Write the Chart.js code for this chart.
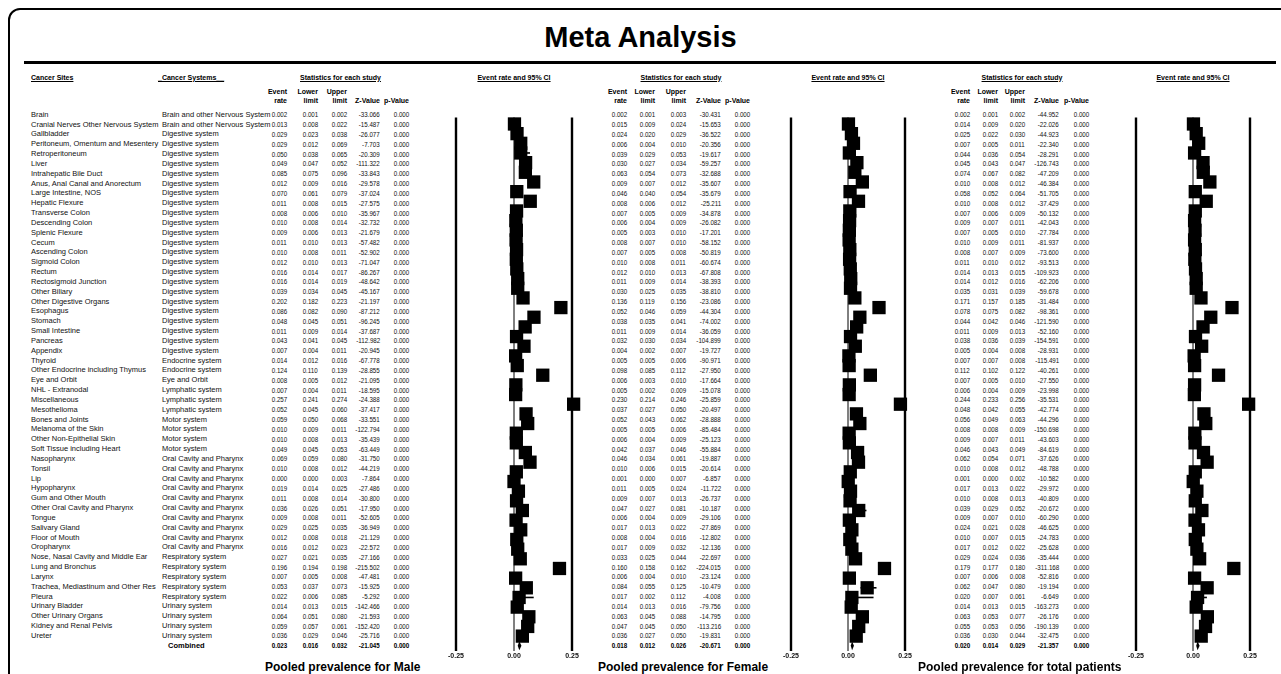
<!DOCTYPE html>
<html>
<head>
<meta charset="utf-8">
<title>Meta Analysis</title>
<script src="https://cdn.jsdelivr.net/npm/chart.js@4.4.1/dist/chart.umd.min.js"></script>
<style>
  body { margin: 0; background: #fff; }
  #page { position: relative; width: 1281px; height: 674px; overflow: hidden; font-family: "Liberation Sans", Arial, sans-serif; }
  .frame { position: absolute; left: 8px; top: 8px; width: 1300px; height: 700px; border: 2px solid #000; border-radius: 12px; }
  .rule { position: absolute; left: 24px; top: 61px; width: 1252px; height: 2.5px; background: #000; }
  .t { position: absolute; white-space: nowrap; font-size: 7.5px; line-height: 7.5px; color: #111; }
  .n { font-size: 7.3px; line-height: 7.3px; transform: scaleX(0.85); transform-origin: right center; }
  .h { font-size: 7px; line-height: 7px; }
  .b { font-weight: bold; color: #000; }
  .u { text-decoration: underline; }
  .title { position: absolute; left: 0; width: 1281px; top: 23px; text-align: center; font-size: 29px; line-height: 29px; font-weight: bold; }
  .foot { position: absolute; top: 661px; font-size: 12px; line-height: 12px; font-weight: bold; white-space: nowrap; }
  canvas { position: absolute; }
</style>
</head>
<body>
<div id="page">
  <div class="frame"></div>
  <div class="title">Meta Analysis</div>
  <div class="rule"></div>
</div>
<script>
// ---- data ----
const sites = ["Brain", "Cranial Nerves Other Nervous System", "Gallbladder", "Peritoneum, Omentum and Mesentery", "Retroperitoneum",
  "Liver", " Intrahepatic Bile Duct", "Anus, Anal Canal and Anorectum", "Large Intestine, NOS", "Hepatic Flexure",
  "Transverse Colon", "Descending Colon", "Splenic Flexure", "Cecum", "Ascending Colon", "Sigmoid Colon", "Rectum",
  "Rectosigmoid Junction", "Other Biliary", "Other Digestive Organs", "Esophagus", "Stomach", "Small Intestine", "Pancreas",
  "Appendix", "Thyroid", "Other Endocrine including Thymus", "Eye and Orbit", "NHL - Extranodal", "Miscellaneous",
  "Mesothelioma", "Bones and Joints", "Melanoma of the Skin", "Other Non-Epithelial Skin", "Soft Tissue including Heart",
  "Nasopharynx", "Tonsil", "Lip", "Hypopharynx", "Gum and Other Mouth", "Other Oral Cavity and Pharynx", "Tongue",
  "Salivary Gland", "Floor of Mouth", "Oropharynx", "Nose, Nasal Cavity and Middle Ear", "Lung and Bronchus", "Larynx",
  "Trachea, Mediastinum and Other Res", "Pleura", "Urinary Bladder", "Other Urinary Organs", "Kidney and Renal Pelvis", "Ureter"];

const BR = "Brain and other Nervous System", DG = "Digestive system", EN = "Endocrine system", EY = "Eye and Orbit",
  LY = "Lymphatic system", MO = "Motor system", OR = "Oral Cavity and Pharynx", RE = "Respiratory system", UR = "Urinary system";
const systems = [BR, BR, DG, DG, DG, DG, DG, DG, DG, DG, DG, DG, DG, DG, DG, DG, DG, DG, DG, DG, DG, DG, DG, DG, DG,
  EN, EN, EY, LY, LY, LY, MO, MO, MO, MO, OR, OR, OR, OR, OR, OR, OR, OR, OR, OR, RE, RE, RE, RE, RE, UR, UR, UR, UR];

const maleRate = [0.002, 0.013, 0.029, 0.029, 0.050, 0.049, 0.085, 0.012, 0.070, 0.011,
  0.008, 0.010, 0.009, 0.011, 0.010, 0.012, 0.016, 0.016, 0.039, 0.202,
  0.086, 0.048, 0.011, 0.043, 0.007, 0.014, 0.124, 0.008, 0.007, 0.257,
  0.052, 0.059, 0.010, 0.010, 0.049, 0.069, 0.010, 0.000, 0.019, 0.011,
  0.036, 0.009, 0.029, 0.012, 0.016, 0.027, 0.196, 0.007, 0.053, 0.022,
  0.014, 0.064, 0.059, 0.036];
const maleLower = [0.001, 0.008, 0.023, 0.012, 0.038, 0.047, 0.075, 0.009, 0.061, 0.008,
  0.006, 0.008, 0.006, 0.010, 0.008, 0.010, 0.014, 0.014, 0.034, 0.182,
  0.082, 0.045, 0.009, 0.041, 0.004, 0.012, 0.110, 0.005, 0.004, 0.241,
  0.045, 0.050, 0.009, 0.008, 0.045, 0.059, 0.008, 0.000, 0.014, 0.008,
  0.026, 0.008, 0.025, 0.008, 0.012, 0.021, 0.194, 0.005, 0.037, 0.006,
  0.013, 0.051, 0.057, 0.029];
const maleUpper = [0.002, 0.022, 0.038, 0.069, 0.065, 0.052, 0.096, 0.016, 0.079, 0.015,
  0.010, 0.014, 0.013, 0.013, 0.011, 0.013, 0.017, 0.019, 0.045, 0.223,
  0.090, 0.051, 0.014, 0.045, 0.011, 0.016, 0.139, 0.012, 0.011, 0.274,
  0.060, 0.068, 0.011, 0.013, 0.053, 0.080, 0.012, 0.003, 0.025, 0.014,
  0.051, 0.011, 0.035, 0.018, 0.023, 0.035, 0.198, 0.008, 0.073, 0.085,
  0.015, 0.080, 0.061, 0.046];
const maleZ = [-33.066, -15.487, -26.077, -7.703, -20.309, -111.322, -33.843, -29.578, -37.024, -27.575,
  -35.967, -32.732, -21.679, -57.482, -52.902, -71.047, -86.267, -48.642, -45.167, -21.197,
  -87.212, -96.245, -37.687, -112.982, -20.945, -67.778, -28.855, -21.095, -18.595, -24.388,
  -37.417, -33.551, -122.794, -35.439, -63.449, -31.750, -44.219, -7.864, -27.486, -30.800,
  -17.950, -52.605, -36.949, -21.129, -22.572, -27.166, -215.502, -47.481, -15.925, -5.292,
  -142.466, -21.593, -152.420, -25.716];

const femaleRate = [0.002, 0.015, 0.024, 0.006, 0.039, 0.030, 0.063, 0.009, 0.046, 0.008,
  0.007, 0.006, 0.005, 0.008, 0.007, 0.010, 0.012, 0.011, 0.030, 0.136,
  0.052, 0.038, 0.011, 0.032, 0.004, 0.005, 0.098, 0.006, 0.005, 0.230,
  0.037, 0.052, 0.005, 0.006, 0.042, 0.046, 0.010, 0.001, 0.011, 0.009,
  0.047, 0.006, 0.017, 0.008, 0.017, 0.033, 0.160, 0.006, 0.084, 0.017,
  0.014, 0.063, 0.047, 0.036];
const femaleLower = [0.001, 0.009, 0.020, 0.004, 0.029, 0.027, 0.054, 0.007, 0.040, 0.006,
  0.005, 0.004, 0.003, 0.007, 0.005, 0.008, 0.010, 0.009, 0.025, 0.119,
  0.046, 0.035, 0.009, 0.030, 0.002, 0.005, 0.085, 0.003, 0.002, 0.214,
  0.027, 0.043, 0.005, 0.004, 0.037, 0.034, 0.006, 0.000, 0.005, 0.007,
  0.027, 0.004, 0.013, 0.004, 0.009, 0.025, 0.158, 0.004, 0.055, 0.002,
  0.013, 0.045, 0.045, 0.027];
const femaleUpper = [0.003, 0.024, 0.029, 0.010, 0.053, 0.034, 0.073, 0.012, 0.054, 0.012,
  0.009, 0.009, 0.010, 0.010, 0.008, 0.011, 0.013, 0.014, 0.035, 0.156,
  0.059, 0.041, 0.014, 0.034, 0.007, 0.006, 0.112, 0.010, 0.009, 0.246,
  0.050, 0.062, 0.006, 0.009, 0.046, 0.061, 0.015, 0.007, 0.024, 0.013,
  0.081, 0.009, 0.022, 0.016, 0.032, 0.044, 0.162, 0.010, 0.125, 0.112,
  0.016, 0.088, 0.050, 0.050];
const femaleZ = [-30.431, -15.653, -36.522, -20.356, -19.617, -59.257, -32.688, -35.607, -35.679, -25.211,
  -34.878, -26.082, -17.201, -58.152, -50.819, -60.674, -67.808, -38.393, -38.810, -23.086,
  -44.304, -74.002, -36.059, -104.899, -19.727, -90.971, -27.950, -17.664, -15.078, -25.859,
  -20.497, -28.888, -85.484, -25.123, -55.884, -19.887, -20.614, -6.857, -11.722, -26.737,
  -10.187, -29.106, -27.869, -12.802, -12.136, -22.697, -224.015, -23.124, -10.479, -4.008,
  -79.756, -14.795, -113.216, -19.831];

const totalRate = [0.002, 0.014, 0.025, 0.007, 0.044, 0.045, 0.074, 0.010, 0.058, 0.010,
  0.007, 0.009, 0.007, 0.010, 0.008, 0.011, 0.014, 0.014, 0.035, 0.171,
  0.078, 0.044, 0.011, 0.038, 0.005, 0.007, 0.112, 0.007, 0.006, 0.244,
  0.048, 0.056, 0.008, 0.009, 0.046, 0.062, 0.010, 0.001, 0.017, 0.010,
  0.039, 0.009, 0.024, 0.010, 0.017, 0.029, 0.179, 0.007, 0.062, 0.020,
  0.014, 0.063, 0.055, 0.036];
const totalLower = [0.001, 0.009, 0.022, 0.005, 0.036, 0.043, 0.067, 0.008, 0.052, 0.008,
  0.006, 0.007, 0.005, 0.009, 0.007, 0.010, 0.013, 0.012, 0.031, 0.157,
  0.075, 0.042, 0.009, 0.036, 0.004, 0.007, 0.102, 0.005, 0.004, 0.233,
  0.042, 0.049, 0.008, 0.007, 0.043, 0.054, 0.008, 0.000, 0.013, 0.008,
  0.029, 0.007, 0.021, 0.007, 0.012, 0.024, 0.177, 0.006, 0.047, 0.007,
  0.013, 0.053, 0.053, 0.030];
const totalUpper = [0.002, 0.020, 0.030, 0.011, 0.054, 0.047, 0.082, 0.012, 0.064, 0.012,
  0.009, 0.011, 0.010, 0.011, 0.009, 0.012, 0.015, 0.016, 0.039, 0.185,
  0.082, 0.046, 0.013, 0.039, 0.008, 0.008, 0.122, 0.010, 0.009, 0.256,
  0.055, 0.063, 0.009, 0.011, 0.049, 0.071, 0.012, 0.002, 0.022, 0.013,
  0.052, 0.010, 0.028, 0.015, 0.022, 0.036, 0.180, 0.008, 0.080, 0.061,
  0.015, 0.077, 0.056, 0.044];
const totalZ = [-44.952, -22.026, -44.923, -22.340, -28.291, -126.743, -47.209, -46.384, -51.705, -37.429,
  -50.132, -42.043, -27.784, -81.937, -73.600, -93.513, -109.923, -62.206, -59.678, -31.484,
  -98.361, -121.590, -52.160, -154.591, -28.931, -115.491, -40.261, -27.550, -23.998, -35.531,
  -42.774, -44.296, -150.698, -43.603, -84.619, -37.626, -48.788, -10.582, -29.972, -40.809,
  -20.672, -60.290, -46.625, -24.783, -25.628, -35.444, -311.168, -52.816, -19.194, -6.649,
  -163.273, -26.176, -190.139, -32.475];

// p-value is 0.000 on every row of all three tables
const pValue = [0, 0, 0, 0, 0, 0, 0, 0, 0, 0, 0, 0, 0, 0, 0, 0, 0, 0, 0, 0, 0, 0, 0, 0, 0, 0, 0,
  0, 0, 0, 0, 0, 0, 0, 0, 0, 0, 0, 0, 0, 0, 0, 0, 0, 0, 0, 0, 0, 0, 0, 0, 0, 0, 0];

// combined row: rate, lower, upper, z, p
const maleCombined = [0.023, 0.016, 0.032, -21.045, 0.000];
const femaleCombined = [0.018, 0.012, 0.026, -20.671, 0.000];
const totalCombined = [0.020, 0.014, 0.029, -21.357, 0.000];

const xTicks = [-0.25, 0, 0.25];
const colHeads = [["Event", "rate"], ["Lower", "limit"], ["Upper", "limit"], ["", "Z-Value"], ["", "p-Value"]];

// ---- layout ----
const page = document.getElementById('page');
const ROW_TOP = 114.7, ROW_H = 9.833;
const rowY = i => ROW_TOP + i * ROW_H;
const PLOT_TOP = 108, PLOT_BOTTOM = 651;

function addText(txt, x, y, cls, align) {
  const d = document.createElement('div');
  d.className = 't ' + (cls || '');
  d.textContent = txt;
  page.appendChild(d);
  d.style.top = (y - d.offsetHeight / 2) + 'px';
  if (align === 'right') d.style.right = (1281 - x) + 'px';
  else if (align === 'center') { d.style.left = (x - 100) + 'px'; d.style.width = '200px'; d.style.textAlign = 'center'; }
  else d.style.left = x + 'px';
  return d;
}

// left labels
addText('Cancer Sites', 31, 77, 'h b u');
addText('_Cancer Systems__', 158, 77, 'h b u');
sites.forEach((s, i) => {
  addText(s, 31, rowY(i));
  addText(systems[i], 162, rowY(i));
});
addText('Combined', 168, rowY(sites.length), 'b');

const groups = [
  { rate: maleRate, lower: maleLower, upper: maleUpper, z: maleZ, comb: maleCombined,
    cols: [287, 318, 347, 380, 409], left: 456, right: 572, foot: 'Pooled prevalence for Male', footX: 265 },
  { rate: femaleRate, lower: femaleLower, upper: femaleUpper, z: femaleZ, comb: femaleCombined,
    cols: [627, 655, 686, 721, 750], left: 791, right: 905, foot: 'Pooled prevalence for Female', footX: 598 },
  { rate: totalRate, lower: totalLower, upper: totalUpper, z: totalZ, comb: totalCombined,
    cols: [970, 998, 1025, 1059, 1089], left: 1136, right: 1250, foot: 'Pooled prevalence for total patients', footX: 918 }
];

groups.forEach(g => {
  const c = g.cols;
  addText('Statistics for each study', (c[0] - 15 + c[4]) / 2, 77, 'h b u', 'center');
  addText('Event rate and 95% CI', (g.left + g.right) / 2, 77, 'h b u', 'center');
  colHeads.forEach((h, k) => {
    if (h[0]) addText(h[0], c[k], 91, 'h b', 'right');
    addText(h[1], c[k], 100, 'h b', 'right');
  });
  g.rate.forEach((v, i) => {
    const y = rowY(i);
    addText(v.toFixed(3), c[0], y, 'n', 'right');
    addText(g.lower[i].toFixed(3), c[1], y, 'n', 'right');
    addText(g.upper[i].toFixed(3), c[2], y, 'n', 'right');
    addText(g.z[i].toFixed(3), c[3], y, 'n', 'right');
    addText(pValue[i].toFixed(3), c[4], y, 'n', 'right');
  });
  g.comb.forEach((v, k) => addText(v.toFixed(3), c[k], rowY(g.rate.length), 'n b', 'right'));

  const f = document.createElement('div');
  f.className = 'foot';
  f.textContent = g.foot;
  f.style.left = g.footX + 'px';
  page.appendChild(f);

  forestPanel(g);
});

// ---- forest panels ----
function forestPanel(g) {
  const PAD = 14, AXIS_H = 14;
  const cv = document.createElement('canvas');
  const w = (g.right - g.left) + PAD * 2, h = (PLOT_BOTTOM - PLOT_TOP) + AXIS_H;
  cv.width = w; cv.height = h;
  cv.style.left = (g.left - PAD) + 'px';
  cv.style.top = PLOT_TOP + 'px';
  cv.style.width = w + 'px'; cv.style.height = h + 'px';
  page.appendChild(cv);

  const n = g.rate.length;
  const yMin = -(rowY(0) - PLOT_TOP) / ROW_H;
  const yMax = yMin + (PLOT_BOTTOM - PLOT_TOP) / ROW_H;

  const linesPlugin = {
    id: 'forestLines',
    beforeDatasetsDraw(chart) {
      const { ctx, chartArea, scales: { x, y } } = chart;
      ctx.save();
      ctx.strokeStyle = '#000';
      xTicks.forEach(v => {
        ctx.lineWidth = v === 0 ? 1 : 2.4;
        const px = x.getPixelForValue(v);
        ctx.beginPath();
        ctx.moveTo(px, chartArea.top);
        ctx.lineTo(px, chartArea.bottom);
        ctx.stroke();
      });
      // 95% CI whiskers
      ctx.lineWidth = 1.6;
      g.lower.forEach((lo, i) => {
        const py = y.getPixelForValue(i);
        ctx.beginPath();
        ctx.moveTo(x.getPixelForValue(lo), py);
        ctx.lineTo(x.getPixelForValue(g.upper[i]), py);
        ctx.stroke();
      });
      ctx.restore();
    },
    afterDatasetsDraw(chart) {
      // pooled estimate diamond
      const { ctx, scales: { x, y } } = chart;
      const py = y.getPixelForValue(n);
      ctx.save();
      ctx.fillStyle = '#000';
      ctx.beginPath();
      ctx.moveTo(x.getPixelForValue(g.comb[1]), py);
      ctx.lineTo(x.getPixelForValue(g.comb[0]), py - 4.5);
      ctx.lineTo(x.getPixelForValue(g.comb[2]), py);
      ctx.lineTo(x.getPixelForValue(g.comb[0]), py + 4.5);
      ctx.closePath();
      ctx.fill();
      ctx.restore();
    }
  };

  new Chart(cv, {
    type: 'scatter',
    data: {
      datasets: [{
        data: g.rate.map((v, i) => ({ x: v, y: i })),
        pointStyle: 'rect',
        pointRadius: 9.4,
        backgroundColor: '#000',
        borderColor: '#000',
        borderWidth: 0,
        clip: false
      }]
    },
    options: {
      responsive: false,
      animation: false,
      events: [],
      layout: { padding: { left: PAD, right: PAD, top: 0, bottom: 0 } },
      plugins: { legend: { display: false }, tooltip: { enabled: false } },
      scales: {
        x: {
          type: 'linear', min: -0.25, max: 0.25,
          afterBuildTicks: axis => { axis.ticks = xTicks.map(v => ({ value: v })); },
          afterFit: axis => { axis.height = AXIS_H; },
          ticks: { callback: v => Number(v).toFixed(2), font: { family: 'Liberation Sans', size: 7, weight: 'bold' },
            color: '#111', padding: 1, maxRotation: 0, autoSkip: false },
          grid: { display: false, drawTicks: false },
          border: { display: false }
        },
        y: { type: 'linear', reverse: true, min: yMin, max: yMax, display: false }
      }
    },
    plugins: [linesPlugin]
  });
}
</script>
</body>
</html>
